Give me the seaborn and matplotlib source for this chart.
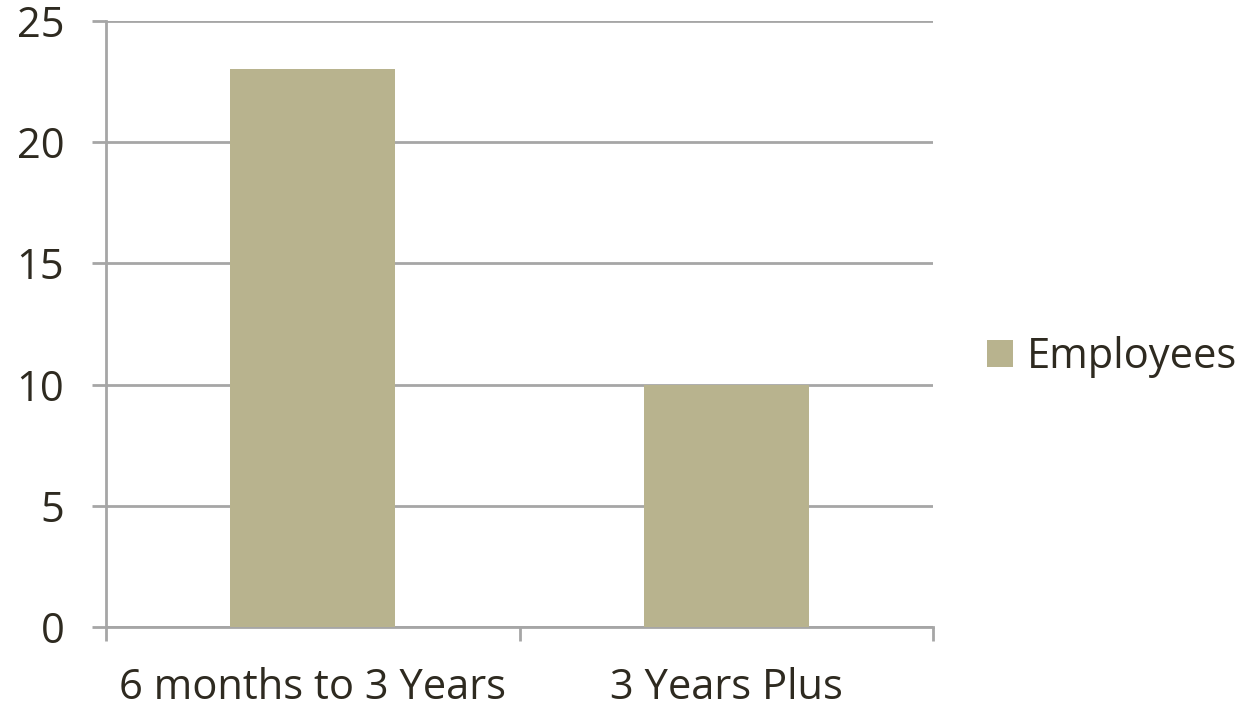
import matplotlib
matplotlib.use("Agg")
import matplotlib.pyplot as plt
import seaborn as sns
import pandas as pd

categories = ["6 months to 3 Years", "3 Years Plus"]
employees = [23, 10]
y_ticks = [0, 5, 10, 15, 20, 25]

BAR = "#B8B38E"
GRID = "#A6A6A6"
TEXT = "#2E2A20"

sns.set_theme(style="white")
plt.rcParams["font.family"] = ["Open Sans", "DejaVu Sans"]

df = pd.DataFrame({"category": categories, "count": employees})

fig = plt.figure(figsize=(12.44, 7.11), dpi=100)
ax = fig.add_axes([106 / 1244, 1 - 627 / 711, (933 - 106) / 1244, (627 - 21) / 711])

sns.barplot(data=df, x="category", y="count", color=BAR, width=0.4,
            saturation=1, linewidth=0, label="Employees", ax=ax, zorder=3)

ax.set_xlim(-0.5, 1.5)
ax.set_ylim(0, 25)
ax.set_yticks(y_ticks)
ax.yaxis.grid(True, color=GRID, linewidth=2)
ax.set_axisbelow(True)
ax.set_xlabel("")
ax.set_ylabel("")

for side in ("top", "right"):
    ax.spines[side].set_visible(False)
for side in ("left", "bottom"):
    ax.spines[side].set_color(GRID)
    ax.spines[side].set_linewidth(2)

fs = 30
ax.tick_params(axis="y", length=10, width=2, color=GRID, pad=20,
               labelsize=fs, labelcolor=TEXT, left=True)
for lbl in ax.get_yticklabels():
    lbl.set_va("center_baseline")
ax.set_xticks([-0.5, 0.5, 1.5], minor=True)
ax.tick_params(axis="x", which="minor", length=10, width=2, color=GRID, bottom=True)
ax.tick_params(axis="x", which="major", length=0, pad=29, labelsize=fs, labelcolor=TEXT)

leg = ax.legend(loc="center left", bbox_to_anchor=(987 / 1244, 1 - 357 / 711),
                bbox_transform=fig.transFigure, frameon=False, fontsize=fs,
                handlelength=0.63, handleheight=0.63, handletextpad=0.33,
                borderpad=0, borderaxespad=0)
for t in leg.get_texts():
    t.set_color(TEXT)

fig.savefig("out.png", dpi=100)
